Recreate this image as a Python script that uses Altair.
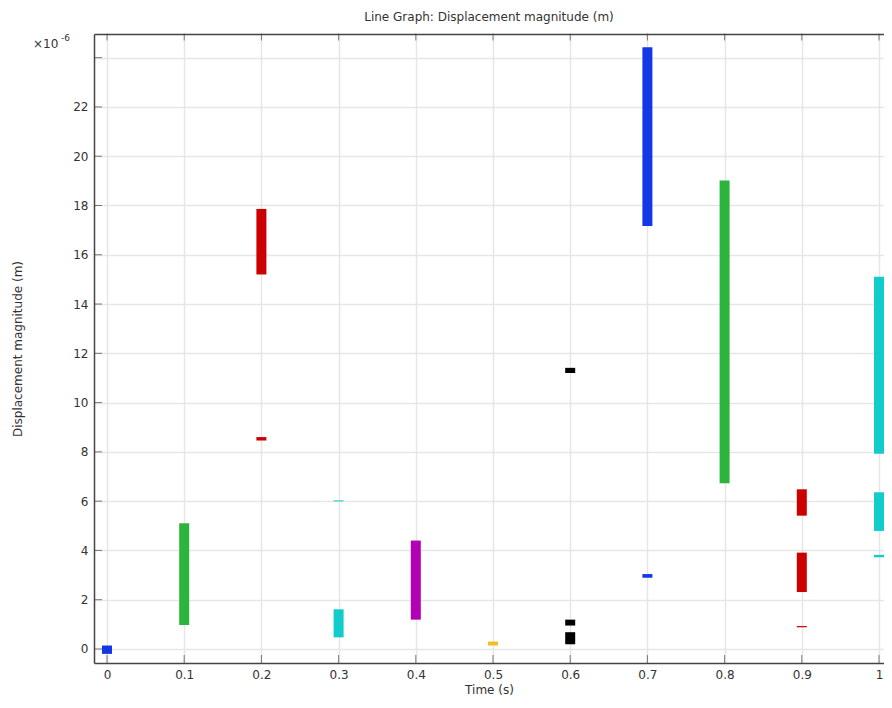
import altair as alt
import pandas as pd

# Segment data (values in units of 1e-6 m)
seg_time = [0.0, 0.1, 0.2, 0.2, 0.3, 0.3, 0.4, 0.5, 0.6, 0.6, 0.6, 0.7, 0.7, 0.8, 0.9, 0.9, 0.9, 1.0, 1.0, 1.0]
seg_low = [-0.2, 0.97, 15.2, 8.46, 0.47, 5.99, 1.19, 0.14, 0.95, 0.19, 11.2, 17.17, 2.89, 6.73, 5.41, 2.31, 0.88, 7.92, 4.79, 3.72]
seg_high = [0.14, 5.1, 17.86, 8.6, 1.61, 6.03, 4.40, 0.3, 1.19, 0.68, 11.41, 24.42, 3.04, 19.01, 6.48, 3.91, 0.93, 15.11, 6.36, 3.82]
seg_step = ["t0", "t1", "t2", "t2", "t3", "t3", "t4", "t5", "t6", "t6", "t6", "t7", "t7", "t8", "t9", "t9", "t9", "t10", "t10", "t10"]

step_names = ["t0", "t1", "t2", "t3", "t4", "t5", "t6", "t7", "t8", "t9", "t10"]
step_colors = ["#1538e6", "#2db43c", "#cc0000", "#12cccc", "#b400b4", "#f0c020",
               "#000000", "#1538e6", "#2db43c", "#cc0000", "#12cccc"]

x_ticks = [0, 0.1, 0.2, 0.3, 0.4, 0.5, 0.6, 0.7, 0.8, 0.9, 1.0]
y_ticks = [0, 2, 4, 6, 8, 10, 12, 14, 16, 18, 20, 22, 24]

seg = pd.DataFrame({"time": seg_time, "low": seg_low, "high": seg_high, "step": seg_step})
xt = pd.DataFrame({"t": x_ticks})
yt = pd.DataFrame({"v": y_ticks})
note_base = pd.DataFrame({"s": ["×10"]})
note_exp = pd.DataFrame({"s": ["-6"]})

W, H = 790, 629
xs = alt.Scale(domain=[-0.01684, 1.00648], nice=False, zero=False)
ys = alt.Scale(domain=[-0.57, 24.96], nice=False, zero=False)
AX = "#444444"
TXT = "#333333"

yaxis = alt.Axis(
    values=y_ticks, labelExpr="datum.value == 24 ? '' : datum.label",
    title="Displacement magnitude (m)", grid=True, gridColor="#e6e6e6", gridWidth=1.5,
    ticks=False, labelPadding=6, domainColor=AX, domainWidth=1.5,
    labelFontSize=12, labelColor=TXT, titleFontSize=12, titleColor=TXT,
    titleFontWeight="normal", titleX=-70, titleY=H / 2, titleAngle=270,
    titleBaseline="bottom", titleAlign="center",
    labelFont="DejaVu Sans", titleFont="DejaVu Sans")

bars = alt.Chart(seg).mark_rule(strokeWidth=10, strokeCap="butt").encode(
    x=alt.X("time:Q", scale=xs, axis=alt.Axis(
        values=x_ticks, format="~g", title="Time (s)", grid=True, gridColor="#e6e6e6",
        gridWidth=1.5, ticks=False, labelPadding=6, domainColor=AX, domainWidth=1.5,
        labelFontSize=12, labelColor=TXT, titleFontSize=12, titleColor=TXT,
        titleFontWeight="normal", titlePadding=4, labelFont="DejaVu Sans", titleFont="DejaVu Sans")),
    y=alt.Y("low:Q", scale=ys, axis=yaxis),
    y2="high:Q",
    color=alt.Color("step:N", scale=alt.Scale(domain=step_names, range=step_colors), legend=None),
)

xtick_bottom = alt.Chart(xt).mark_tick(orient="vertical", size=8, thickness=1, color=AX).encode(
    x=alt.X("t:Q", scale=xs, axis=None), y=alt.value(H - 4))

xtick_top = alt.Chart(xt).mark_tick(orient="vertical", size=7, thickness=1, color=AX).encode(
    x=alt.X("t:Q", scale=xs, axis=alt.Axis(orient="top", labels=False, ticks=False, grid=False,
                                             domain=True, domainColor=AX, domainWidth=1.5, title=None)),
    y=alt.value(3))

ytick_left = alt.Chart(yt).mark_tick(orient="horizontal", size=8, thickness=1, color=AX).encode(
    y=alt.Y("v:Q", scale=ys, axis=yaxis), x=alt.value(4))

base_txt = alt.Chart(note_base).mark_text(align="left", baseline="middle", fontSize=12,
                                          font="DejaVu Sans", color=TXT).encode(
    text="s:N", x=alt.value(-61), y=alt.value(10))

exp_txt = alt.Chart(note_exp).mark_text(align="left", baseline="middle", fontSize=9,
                                        font="DejaVu Sans", color=TXT).encode(
    text="s:N", x=alt.value(-33), y=alt.value(4))

chart = alt.layer(bars, xtick_bottom, xtick_top, ytick_left, base_txt, exp_txt).resolve_axis(
    x="independent"
).properties(
    width=W, height=H,
    title=alt.TitleParams("Line Graph: Displacement magnitude (m)", fontSize=12,
                          font="DejaVu Sans", fontWeight="normal", color=TXT,
                          anchor="middle", offset=10),
    autosize=alt.AutoSizeParams(type="none"),
    padding={"left": 86, "top": 26, "right": 0, "bottom": 33},
).configure_view(stroke=None)

chart.save("out.html", embed_options={"renderer": "svg", "actions": False})
